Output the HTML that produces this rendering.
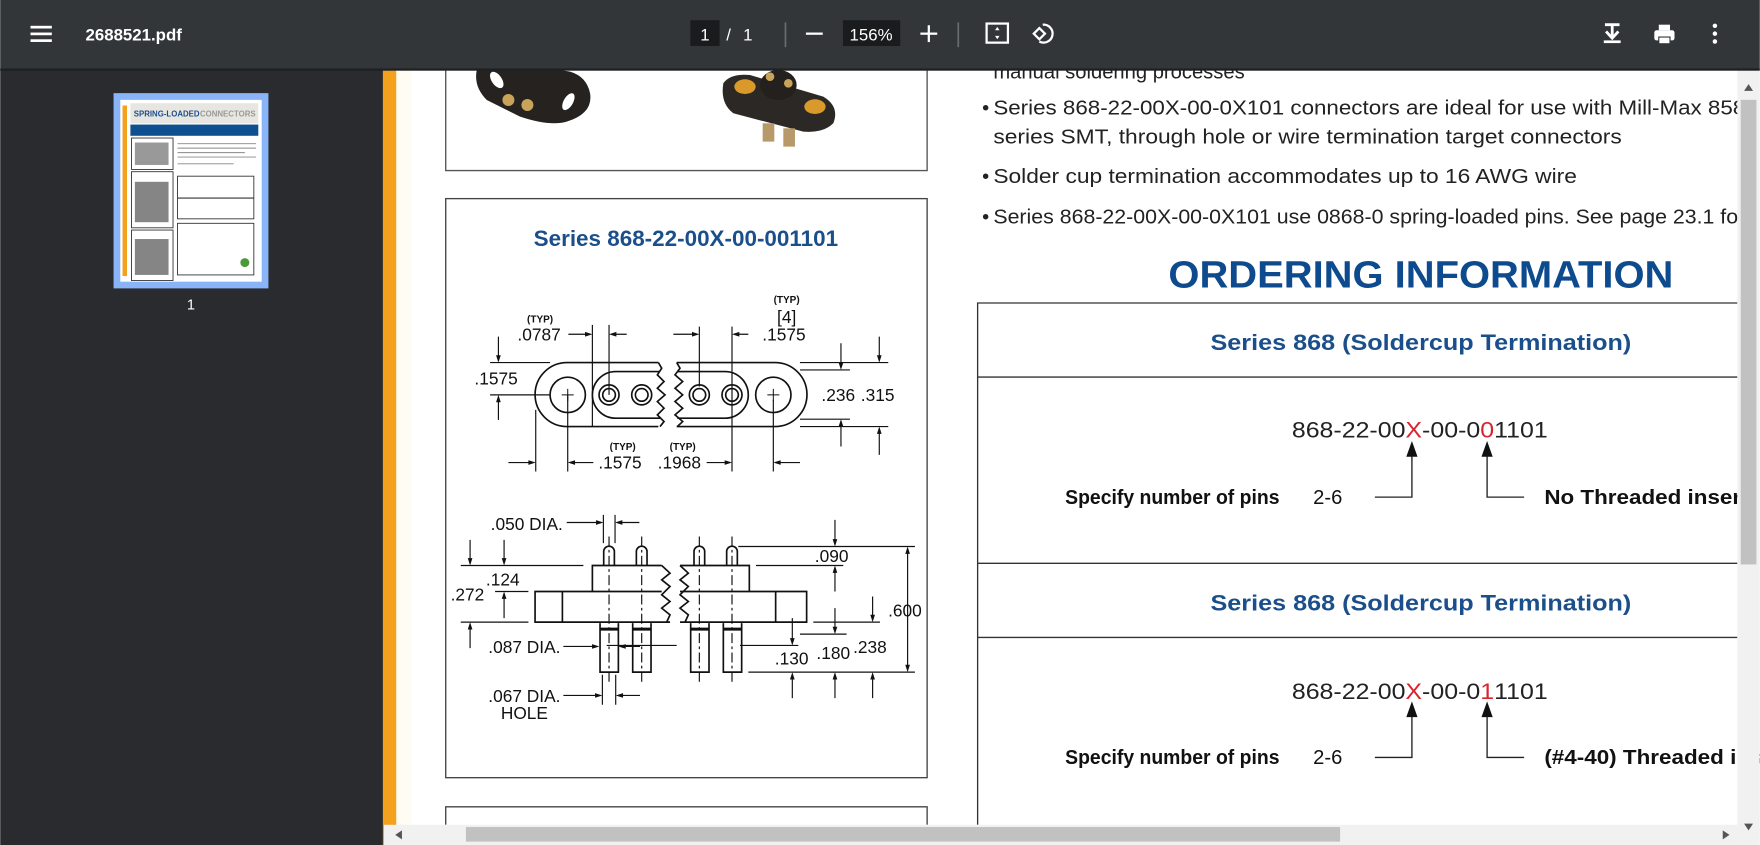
<!DOCTYPE html>
<html><head><meta charset="utf-8"><style>
html,body{margin:0;padding:0;width:1760px;height:845px;overflow:hidden;background:#fff}
svg text{font-family:"Liberation Sans",sans-serif}
</style></head><body>
<svg width="1760" height="845" viewBox="0 0 1568 753" xmlns="http://www.w3.org/2000/svg">
<rect x="0" y="0" width="1568" height="753" fill="#fff"/>
<rect x="0" y="62" width="342" height="691" fill="#292b2e"/>
<rect x="341" y="62" width="12" height="691" fill="#f4a21e"/>
<rect x="353" y="62" width="14" height="691" fill="#fffcf3"/>
<!-- thumbnail -->
<rect x="101" y="83" width="138" height="174" fill="#8ab4f8"/>
<rect x="107" y="89" width="126" height="162" fill="#fff"/>
<rect x="109" y="94" width="4" height="152" fill="#f4a21e"/>
<rect x="116" y="92" width="114" height="18" fill="#e8e6e0"/>
<text x="119" y="104" font-size="7" font-weight="bold" fill="#1d4e8f">SPRING-LOADED</text><text x="178" y="104" font-size="7" font-weight="bold" fill="#999">CONNECTORS</text>
<rect x="116" y="111" width="114" height="10" fill="#0e4f8f"/>
<rect x="117" y="123" width="37" height="28" fill="none" stroke="#333" stroke-width="0.8"/>
<rect x="117" y="153" width="37" height="50" fill="none" stroke="#333" stroke-width="0.8"/>
<rect x="117" y="205" width="37" height="45" fill="none" stroke="#333" stroke-width="0.8"/>
<g fill="#333"><rect x="120" y="127" width="30" height="20" opacity="0.5"/><rect x="120" y="162" width="30" height="36" opacity="0.6"/><rect x="120" y="213" width="30" height="32" opacity="0.6"/></g>
<g stroke="#888" stroke-width="0.8"><path d="M158 128h70M158 132h70M158 136h60M158 140h70M158 146h50"/></g>
<rect x="158" y="157" width="68" height="38" fill="none" stroke="#333" stroke-width="0.8"/>
<rect x="158" y="176" width="68" height="1" fill="#333"/>
<rect x="158" y="199" width="68" height="46" fill="none" stroke="#333" stroke-width="0.8"/>
<circle cx="218" cy="234" r="4" fill="#4a9a3a"/>
<text x="170" y="276" font-size="13" fill="#fff" text-anchor="middle">1</text>
<!-- top photo box -->
<path d="M397 62 V152 H826 V62" fill="none" stroke="#555" stroke-width="1.2"/>
<g transform="scale(0.8909) translate(440,60) scale(0.3333)">
 <path d="M110 30 Q100 80 140 120 L240 170 Q330 200 380 185 Q460 160 450 100 Q440 50 390 35 L330 25 Z" fill="#26221f"/>
 <ellipse cx="170" cy="60" rx="15" ry="28" transform="rotate(-35 170 60)" fill="#fff"/>
 <ellipse cx="385" cy="125" rx="14" ry="28" transform="rotate(30 385 125)" fill="#fff"/>
 <circle cx="205" cy="120" r="18" fill="#c9a35a"/><circle cx="262" cy="135" r="18" fill="#c9a35a"/>
 <path d="M850 70 Q870 40 930 45 L1150 110 Q1200 140 1180 190 Q1150 220 1090 215 L880 160 Q840 130 850 70Z" fill="#2c2825"/>
 <ellipse cx="915" cy="80" rx="32" ry="22" fill="#d99a2b"/><ellipse cx="1125" cy="140" rx="32" ry="22" fill="#d99a2b"/>
 <ellipse cx="1015" cy="75" rx="55" ry="45" fill="#24201d"/>
 <circle cx="990" cy="50" r="13" fill="#c9a35a"/><circle cx="1045" cy="70" r="13" fill="#c9a35a"/>
 <rect x="968" y="190" width="35" height="55" fill="#b89a6a"/><rect x="1030" y="205" width="35" height="55" fill="#b89a6a"/>
</g>
<!-- drawing box -->
<rect x="397" y="177" width="429" height="516" fill="none" stroke="#444" stroke-width="1.2"/>
<path d="M397 735 V719 H826 V735" fill="none" stroke="#444" stroke-width="1.2"/>
<text x="611" y="219" font-size="20" font-weight="bold" fill="#1b4f8b" text-anchor="middle">Series 868-22-00X-00-001101</text>
<g transform="scale(0.8909) translate(440,280) scale(0.3333)" fill="none" stroke="#111" stroke-width="5">
 <path d="M655 248 H381 A96 96 0 0 0 381 440 H655"/>
 <path d="M710 248 H1005 A96 96 0 0 1 1005 440 H710"/>
 <path d="M660 275 H527 A70 70 0 0 0 527 415 H660"/>
 <path d="M712 275 H855 A70 70 0 0 1 855 415 H712"/>
 <path d="M655 248 L665 265 L652 285 L672 305 L652 325 L675 345 L652 365 L672 385 L652 405 L672 425 L660 440"/>
 <path d="M710 248 L720 265 L705 285 L728 305 L705 325 L728 345 L705 365 L728 385 L705 405 L728 425 L712 440"/>
 <circle cx="383" cy="345" r="53"/><circle cx="1000" cy="345" r="53"/>
 <path d="M365 345h36M383 327v36M982 345h36M1000 327v36" stroke-width="3"/>
 <circle cx="507" cy="345" r="30"/><circle cx="507" cy="345" r="19"/>
 <circle cx="605" cy="345" r="30"/><circle cx="605" cy="345" r="19"/>
 <circle cx="778" cy="345" r="30"/><circle cx="778" cy="345" r="19"/>
 <circle cx="876" cy="345" r="30"/><circle cx="876" cy="345" r="19"/>
 <g stroke-width="3.5">
 <path d="M150 248H330 M150 345H330 M1080 248H1345 M1080 270H1230 M1080 418H1230 M1080 440H1345"/>
 <path d="M457 135V440 M507 135V345 M778 140V320 M876 140V575 M287 390V575 M383 345V575 M1000 360V575"/>
 <path d="M175 170V240 M175 420V352 M1203 190V262 M1203 500V426 M1318 170V240 M1318 525V448"/>
 <path d="M385 163H450 M560 163H514 M700 163H771 M925 163H883"/>
 <path d="M205 548H280 M460 548H390 M800 548H869 M1080 548H1007"/>
 <path d="M710 1097H500 M900 1097H1075 M62 857H430 M165 935H265 M62 1027H265 M895 800H1425 M948 857H1210 M1120 1027H1320 M1080 1063H1220 M925 1177H1425"/>
 <path d="M90 780V850 M90 1105V1035 M192 780V850 M192 1015V943 M1185 720V793 M1185 935V865 M1185 985V1056 M1298 950V1020 M1403 808V1169 M1057 1015V1090 M1057 1255V1185 M1185 1255V1185 M1298 1255V1185"/>
 <path d="M380 728H483 M598 728H532 M370 1100H471 M600 1100H542 M370 1247H480 M600 1247H534"/>
 <path d="M490 705V790 M525 705V790 M487 1185V1275 M527 1185V1275"/>
 </g>
 <path d="M665 857 H457 V935 M720 857 H928 V935"/>
 <path d="M665 935 H285 V1027 H690 M367 935V1027 M720 935 H1100 V1027 H720 M1007 935V1027"/>
 <path d="M665 857 L690 880 L665 900 L690 920 L665 945 L690 965 L665 985 L690 1005 L680 1027"/>
 <path d="M720 857 L745 880 L720 900 L745 920 L720 945 L745 965 L720 985 L745 1005 L735 1027"/>
 <path d="M491 857V815 A16 16 0 0 1 523 815V857 M589 857V815 A16 16 0 0 1 621 815V857 M762 857V815 A16 16 0 0 1 794 815V857 M860 857V815 A16 16 0 0 1 892 815V857"/>
 <path d="M480 1030V1177H535V1030 M578 1030V1177H633V1030 M752 1030V1177H807V1030 M850 1030V1177H905V1030"/>
 <path d="M480 1048H535 M578 1048H633 M752 1048H807 M850 1048H905" stroke-width="9"/>
 <path d="M507 770V1210 M605 770V1210 M778 770V1210 M876 770V1210" stroke-width="3.5" stroke-dasharray="30 10 8 10"/>
 <g fill="#111" stroke="none">
 <path d="M457 163l-22 -7v14z M507 163l22 -7v14z M778 163l-22 -7v14z M876 163l22 -7v14z"/>
 <path d="M287 548l-22 -7v14z M383 548l22 -7v14z M876 548l-22 -7v14z M1000 548l22 -7v14z"/>
 <path d="M175 248l-7 -22h14z M175 345l-7 22h14z M1203 270l-7 -22h14z M1203 418l-7 22h14z M1318 248l-7 -22h14z M1318 440l-7 22h14z"/>
 <path d="M90 857l-7 -22h14z M90 1027l-7 22h14z M192 857l-7 -22h14z M192 935l-7 22h14z M1185 800l-7 -22h14z M1185 857l-7 22h14z M1185 1063l-7 -22h14z M1298 1027l-7 -22h14z M1403 800l-7 22h14z M1403 1177l-7 -22h14z M1057 1097l-7 -22h14z M1057 1177l-7 22h14z M1185 1177l-7 22h14z M1298 1177l-7 22h14z"/>
 <path d="M490 728l-22 -7v14z M525 728l22 -7v14z M478 1100l-22 -7v14z M535 1100l22 -7v14z M487 1247l-22 -7v14z M527 1247l22 -7v14z"/>
 </g>
 <g fill="#111" stroke="none" font-size="52" text-anchor="middle">
 <text x="300" y="128" font-size="30" font-weight="bold">(TYP)</text>
 <text x="297" y="182">.0787</text>
 <text x="1040" y="70" font-size="30" font-weight="bold">(TYP)</text>
 <text x="1040" y="130">[4]</text>
 <text x="1032" y="182">.1575</text>
 <text x="168" y="314">.1575</text>
 <text x="1195" y="364">.236</text><text x="1313" y="364">.315</text>
 <text x="548" y="510" font-size="30" font-weight="bold">(TYP)</text>
 <text x="540" y="566">.1575</text>
 <text x="728" y="510" font-size="30" font-weight="bold">(TYP)</text>
 <text x="718" y="566">.1968</text>
 <text x="260" y="750">.050 DIA.</text>
 <text x="188" y="917">.124</text>
 <text x="82" y="962">.272</text>
 <text x="1175" y="847">.090</text>
 <text x="1395" y="1010">.600</text>
 <text x="253" y="1120">.087 DIA.</text>
 <text x="1055" y="1154">.130</text>
 <text x="1180" y="1137">.180</text>
 <text x="1290" y="1120">.238</text>
 <text x="253" y="1267">.067 DIA.</text>
 <text x="253" y="1317">HOLE</text>
 </g>
</g>
<!-- right text -->
<g font-size="18" fill="#222">
<text x="885" y="70">manual soldering processes</text>
<text x="875" y="102">•</text><text x="885" y="102" textLength="670" lengthAdjust="spacingAndGlyphs">Series 868-22-00X-00-0X101 connectors are ideal for use with Mill-Max 858</text>
<text x="885" y="128" textLength="560" lengthAdjust="spacingAndGlyphs">series SMT, through hole or wire termination target connectors</text>
<text x="875" y="163">•</text><text x="885" y="163" textLength="520" lengthAdjust="spacingAndGlyphs">Solder cup termination accommodates up to 16 AWG wire</text>
<text x="875" y="199">•</text><text x="885" y="199" textLength="670" lengthAdjust="spacingAndGlyphs">Series 868-22-00X-00-0X101 use 0868-0 spring-loaded pins.  See page 23.1 for</text>
</g>
<text x="1266" y="256" font-size="34" font-weight="bold" fill="#0d4a8e" text-anchor="middle" textLength="450" lengthAdjust="spacingAndGlyphs">ORDERING INFORMATION</text>
<g stroke="#333" stroke-width="1.2" fill="none">
<path d="M871 735V270H1548 M871 336H1548 M871 502H1548 M871 568H1548"/>
</g>
<g font-size="20" font-weight="bold" fill="#1b4f8b" text-anchor="middle">
<text x="1266" y="312" textLength="375" lengthAdjust="spacingAndGlyphs">Series 868  (Soldercup Termination)</text>
<text x="1266" y="544" textLength="375" lengthAdjust="spacingAndGlyphs">Series 868  (Soldercup Termination)</text>
</g>
<g font-size="20" fill="#222">
<text x="1151" y="390" textLength="228" lengthAdjust="spacingAndGlyphs">868-22-00<tspan fill="#d9232e">X</tspan>-00-0<tspan fill="#d9232e">0</tspan>1101</text>
<text x="1151" y="623" textLength="228" lengthAdjust="spacingAndGlyphs">868-22-00<tspan fill="#d9232e">X</tspan>-00-0<tspan fill="#d9232e">1</tspan>1101</text>
</g>
<g stroke="#222" stroke-width="1.2" fill="none">
<path d="M1225 443H1258V405 M1325 405V443H1358"/>
<path d="M1225 675H1258V637 M1325 637V675H1358"/>
</g>
<g fill="#111"><path d="M1258 393l-5 14h10z M1325 393l-5 14h10z M1258 625l-5 14h10z M1325 625l-5 14h10z"/></g>
<g font-size="18" fill="#111">
<text x="949" y="449" font-weight="bold" textLength="191" lengthAdjust="spacingAndGlyphs">Specify number of pins</text><text x="1170" y="449">2-6</text>
<text x="1376" y="449" font-weight="bold" textLength="182" lengthAdjust="spacingAndGlyphs">No Threaded insert</text>
<text x="949" y="681" font-weight="bold" textLength="191" lengthAdjust="spacingAndGlyphs">Specify number of pins</text><text x="1170" y="681">2-6</text>
<text x="1376" y="681" font-weight="bold" textLength="220" lengthAdjust="spacingAndGlyphs">(#4-40) Threaded insert</text>
</g>
<!-- scrollbars -->
<rect x="1548" y="62" width="20" height="691" fill="#f1f1f1"/>
<rect x="1551" y="89" width="14" height="414" fill="#c1c1c1"/>
<path d="M1554 81 l4 -6 l4 6z M1554 734 l4 6 l4 -6z" fill="#555"/>
<rect x="342" y="735" width="1206" height="18" fill="#f1f1f1"/>
<rect x="415" y="737" width="779" height="13" fill="#c1c1c1"/>
<path d="M352 744 l6 -4 v8z M1541 744 l-6 -4 v8z" fill="#555"/>
<!-- toolbar (drawn last to clip page content) -->
<rect x="0" y="0" width="1568" height="62" fill="#323639"/>
<rect x="0" y="61" width="1568" height="2" fill="#1e2022"/>
<g fill="#fff"><rect x="27" y="23" width="19" height="2.4"/><rect x="27" y="29" width="19" height="2.4"/><rect x="27" y="35" width="19" height="2.4"/></g>
<text x="76" y="36" fill="#fff" font-size="15" font-weight="bold">2688521.pdf</text>
<rect x="615" y="18" width="26" height="23" fill="#191b1c"/>
<text x="628" y="36" fill="#fff" font-size="15" text-anchor="middle">1</text>
<text x="647" y="36" fill="#fff" font-size="15">/</text>
<text x="662" y="36" fill="#fff" font-size="15">1</text>
<rect x="699" y="20" width="1.5" height="22" fill="#6a6d70"/>
<rect x="718" y="29" width="15" height="2" fill="#fff"/>
<rect x="751" y="18" width="51" height="23" fill="#191b1c"/>
<text x="776" y="36" fill="#fff" font-size="15" text-anchor="middle">156%</text>
<rect x="820" y="29" width="15" height="2" fill="#fff"/><rect x="826.5" y="22.5" width="2" height="15" fill="#fff"/>
<rect x="853" y="20" width="1.5" height="22" fill="#6a6d70"/>
<rect x="879" y="21" width="19" height="17" fill="none" stroke="#fff" stroke-width="2"/>
<path d="M888.5 24 l-2 3 h4 z M888.5 35 l-2 -3 h4 z" fill="#fff"/>
<path d="M921 30 l5 -5 l5 5 l-5 5 z" fill="none" stroke="#fff" stroke-width="2"/>
<path d="M929 22 a8 8 0 1 1 -3 15" fill="none" stroke="#fff" stroke-width="2"/>
<path d="M1430 22 h13 M1436.5 22 v12 M1431 28 l5.5 6 l5.5 -6" fill="none" stroke="#fff" stroke-width="2.5"/>
<rect x="1429" y="36" width="15" height="2.4" fill="#fff"/>
<rect x="1478" y="22" width="10" height="5" fill="#fff"/><rect x="1474" y="27" width="18" height="9" rx="2" fill="#fff"/><rect x="1478" y="33" width="10" height="6" fill="#fff" stroke="#323639" stroke-width="1"/>
<g fill="#fff"><circle cx="1528" cy="23" r="2"/><circle cx="1528" cy="30" r="2"/><circle cx="1528" cy="37" r="2"/></g>
</svg>
</body></html>
